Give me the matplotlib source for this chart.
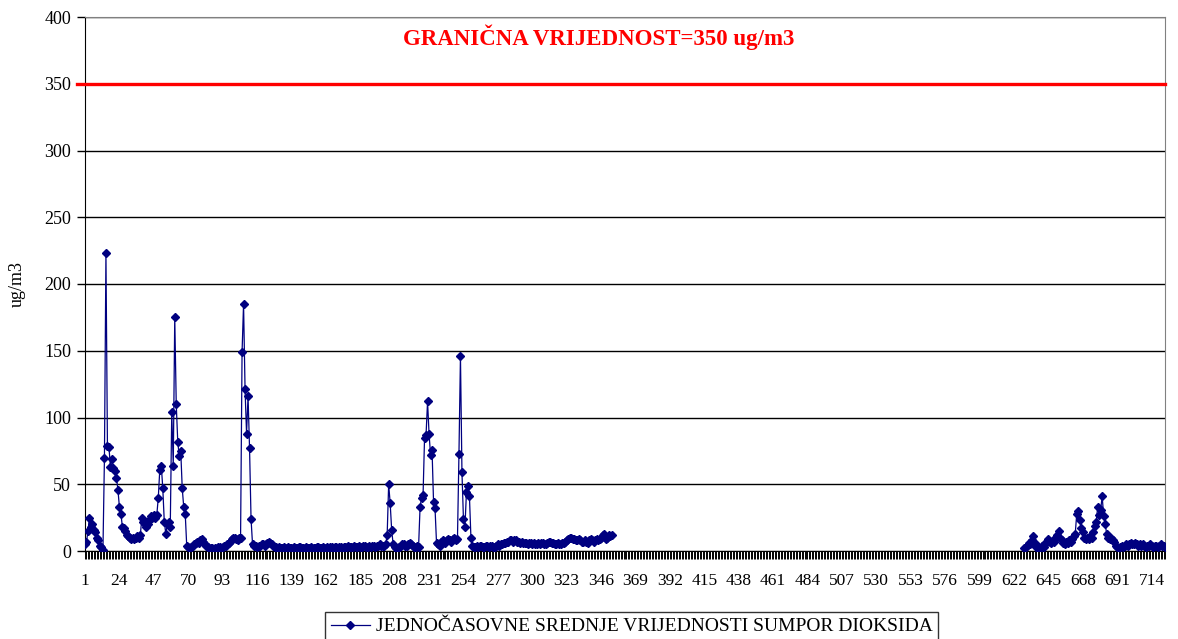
import numpy as np
import matplotlib
matplotlib.use("Agg")
import matplotlib.pyplot as plt

plt.rcParams['font.family'] = ['Liberation Serif', 'DejaVu Serif']

# hourly SO2 values, hours 1-353
so2_part1 = [
    5, 7, 15, 25, 18, 20, 16, 14, 10, 8,
    4, 3, 1, 70, 223, 79, 78, 63, 69, 62,
    60, 55, 46, 33, 28, 18, 17, 15, 12, 11,
    10, 9, 10, 9, 10, 11, 10, 12, 25, 22,
    20, 18, 20, 23, 26, 25, 27, 25, 27, 40,
    61, 64, 47, 22, 13, 20, 22, 18, 104, 64,
    175, 110, 82, 71, 75, 47, 33, 28, 4, 3,
    2, 3, 4, 5, 6, 7, 6, 8, 9, 7,
    5, 4, 3, 2, 2, 2, 1, 2, 2, 3,
    3, 2, 3, 4, 4, 5, 6, 7, 9, 10,
    10, 9, 8, 10, 10, 149, 185, 121, 88, 116,
    77, 24, 5, 4, 4, 3, 4, 4, 5, 5,
    4, 5, 6, 7, 6, 5, 4, 3, 3, 2,
    3, 2, 2, 3, 2, 2, 3, 2, 2, 2,
    3, 2, 2, 3, 3, 2, 2, 2, 3, 2,
    2, 3, 2, 2, 2, 3, 3, 2, 2, 3,
    2, 2, 3, 2, 3, 3, 2, 3, 3, 2,
    3, 3, 2, 3, 3, 3, 4, 3, 3, 3,
    4, 3, 3, 4, 3, 3, 4, 4, 3, 3,
    4, 3, 4, 4, 3, 4, 4, 5, 4, 4,
    4, 5, 12, 50, 36, 16, 5, 3, 2, 2,
    3, 4, 5, 5, 4, 4, 5, 6, 5, 4,
    3, 3, 4, 3, 33, 40, 42, 85, 87, 112,
    88, 72, 76, 37, 32, 6, 5, 4, 7, 8,
    7, 6, 8, 9, 8, 7, 9, 10, 8, 9,
    73, 146, 59, 24, 18, 44, 49, 41, 10, 4,
    3, 3, 4, 3, 4, 4, 3, 3, 4, 4,
    3, 4, 4, 3, 3, 4, 5, 4, 5, 5,
    6, 6, 7, 7, 8, 8, 7, 8, 8, 7,
    7, 6, 7, 6, 6, 6, 5, 6, 6, 5,
    6, 5, 5, 6, 5, 6, 6, 5, 5, 6,
    7, 7, 6, 6, 5, 5, 6, 5, 5, 6,
    6, 7, 8, 9, 10, 10, 9, 9, 8, 8,
    9, 8, 7, 7, 8, 7, 6, 8, 9, 8,
    7, 8, 9, 8, 9, 10, 12, 13, 9, 10,
    12, 11, 12,
]

# hourly SO2 values, hours 629-723 (no data in between)
part2_start = 629
so2_part2 = [
    2, 3, 4, 6, 5, 8, 11, 6, 3, 2,
    3, 2, 4, 3, 6, 7, 9, 7, 6, 8,
    7, 10, 12, 15, 10, 8, 6, 5, 7, 6,
    8, 7, 9, 11, 13, 28, 30, 23, 17, 14,
    10, 9, 10, 9, 11, 10, 14, 19, 22, 33,
    27, 31, 41, 26, 20, 13, 10, 9, 10, 8,
    7, 4, 3, 2, 3, 4, 3, 4, 5, 4,
    5, 6, 5, 5, 6, 5, 4, 5, 4, 5,
    4, 3, 4, 4, 5, 4, 3, 4, 4, 3,
    4, 5, 4, 4, 3,
]

n_hours = 723
limit = 350
label_step = 23

hours = np.arange(1, n_hours + 1)
so2 = np.full(n_hours, np.nan)
so2[:len(so2_part1)] = so2_part1
so2[part2_start - 1:part2_start - 1 + len(so2_part2)] = so2_part2

fig = plt.figure(figsize=(11.78, 6.39), dpi=100)
ax = fig.add_axes([85 / 1178, 1 - 551 / 639, 1080 / 1178, 534 / 639])

ax.plot(hours, so2, color='#000080', lw=0.9, marker='D', ms=4.5,
        mec='#000080', mfc='#000080',
        label='JEDNOČASOVNE SREDNJE VRIJEDNOSTI SUMPOR DIOKSIDA', zorder=3)

ax.axhline(limit, xmin=-0.007, color='red', lw=2.4, clip_on=False, zorder=4)
fig.text(599 / 1178, 1 - 37 / 639, 'GRANIČNA VRIJEDNOST=350 ug/m3',
         color='red', fontsize=16.5, fontweight='bold', ha='center', va='center')

ax.set_xlim(1, n_hours)
ax.set_ylim(0, 400)
ax.set_yticks(np.arange(0, 401, 50))
ax.set_xticks(hours[::label_step])
ax.set_xticks(hours, minor=True)
ax.tick_params(axis='x', which='major', length=6, width=0.7, labelsize=12.5, pad=10)
ax.tick_params(axis='x', which='minor', length=6, width=0.7)
ax.tick_params(axis='y', length=6, width=1, labelsize=13, pad=4)
ax.yaxis.grid(True, color='black', lw=1)
ax.set_axisbelow(True)

for s in ['top', 'right']:
    ax.spines[s].set_color('#808080')
for s in ['left', 'bottom']:
    ax.spines[s].set_color('black')

ax.set_ylabel('ug/m3', fontsize=13)
ax.yaxis.set_label_coords((26 - 85) / 1080, (551 - 284) / 534)

leg = fig.legend(loc='upper left', bbox_to_anchor=(325 / 1178, 1 - 612 / 639),
                 fontsize=14, frameon=True, fancybox=False, handlelength=2.0,
                 borderpad=0.3, handletextpad=0.3, borderaxespad=0)
leg.get_frame().set_edgecolor('black')
leg.get_frame().set_linewidth(1)

fig.savefig('out.png', dpi=100)
